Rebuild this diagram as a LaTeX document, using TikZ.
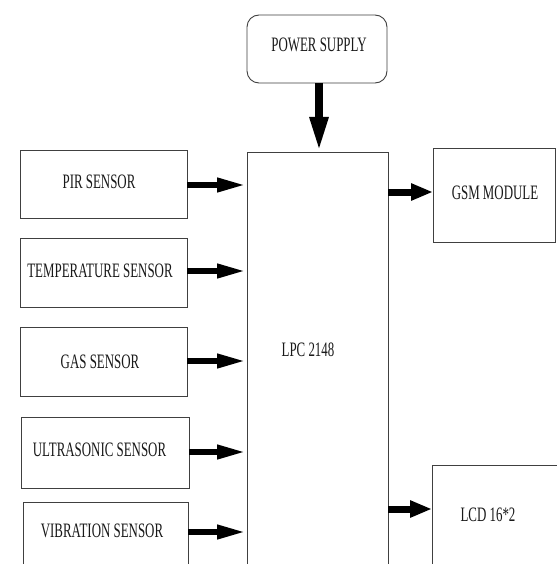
\documentclass[tikz,border=0pt]{standalone}
\usepackage{fontspec}
\setmainfont{Liberation Serif}[FakeStretch=0.63]
\usetikzlibrary{arrows.meta}
\begin{document}
\begin{tikzpicture}[x=1bp,y=-1bp,
  box/.style={draw=black!75,line width=0.9bp,rectangle,inner sep=0pt,outer sep=0pt,anchor=north west,
    text=black!85,font=\fontsize{20.5bp}{22bp}\selectfont},
  lbl/.style={inner sep=0pt,text=black!90,font=\fontsize{20.5bp}{22bp}\selectfont},
  inarrow/.style={line width=6.5bp,-{Triangle[length=30bp,width=13bp]}},
  outarrow/.style={line width=7bp,-{Triangle[length=22bp,width=16bp]}},
  pwrarrow/.style={line width=8bp,-{Triangle[length=35bp,width=17bp]}}]
\useasboundingbox[fill=white] (0,0) rectangle (557,564);
% power supply
\node[box,rounded corners=12bp,minimum width=140bp,minimum height=68bp] (pwr) at (247,15) {};
\node[lbl] (pwrt) at (319,45) {POWER SUPPLY};
% controller
\node[box,minimum width=141bp,minimum height=460bp] (lpc) at (247,152) {};
\node[lbl] (lpct) at (308,350) {LPC 2148};
% sensors
\node[box,minimum width=167bp,minimum height=68bp] (pir) at (20,150) {};
\node[lbl] (pirt) at (99,182) {PIR SENSOR};
\node[box,minimum width=167bp,minimum height=69bp] (tmp) at (20,238) {};
\node[lbl] (tmpt) at (100,271) {TEMPERATURE SENSOR};
\node[box,minimum width=167bp,minimum height=69bp] (gas) at (20,327) {};
\node[lbl] (gast) at (100,362) {GAS SENSOR};
\node[box,minimum width=168bp,minimum height=71bp] (ult) at (21,417) {};
\node[lbl] (ultt) at (99.5,450) {ULTRASONIC SENSOR};
\node[box,minimum width=165bp,minimum height=100bp] (vib) at (23,502) {};
\node[lbl] (vibt) at (102,531) {VIBRATION SENSOR};
% outputs
\node[box,minimum width=122bp,minimum height=94bp] (gsm) at (433,148) {};
\node[lbl] (gsmt) at (495,193) {GSM MODULE};
\node[box,minimum width=160bp,minimum height=140bp] (lcd) at (432,465) {};
\node[lbl] (lcdt) at (488,515) {LCD 16*2};
% arrows
\draw[pwrarrow] (pwr.south -| 319,0) -- (lpc.north -| 319,0);
\draw[inarrow] (pir.east |- 0,185) -- (lpc.west |- 0,185);
\draw[inarrow] (tmp.east |- 0,271) -- (lpc.west |- 0,271);
\draw[inarrow] (gas.east |- 0,361) -- (lpc.west |- 0,361);
\draw[inarrow] (ult.east |- 0,452) -- (lpc.west |- 0,452);
\draw[inarrow] (vib.east |- 0,532) -- (lpc.west |- 0,532);
\draw[outarrow] (lpc.east |- 0,192) -- (gsm.west |- 0,192);
\draw[outarrow] (lpc.east |- 0,509) -- (lcd.west |- 0,509);
\end{tikzpicture}
\end{document}
